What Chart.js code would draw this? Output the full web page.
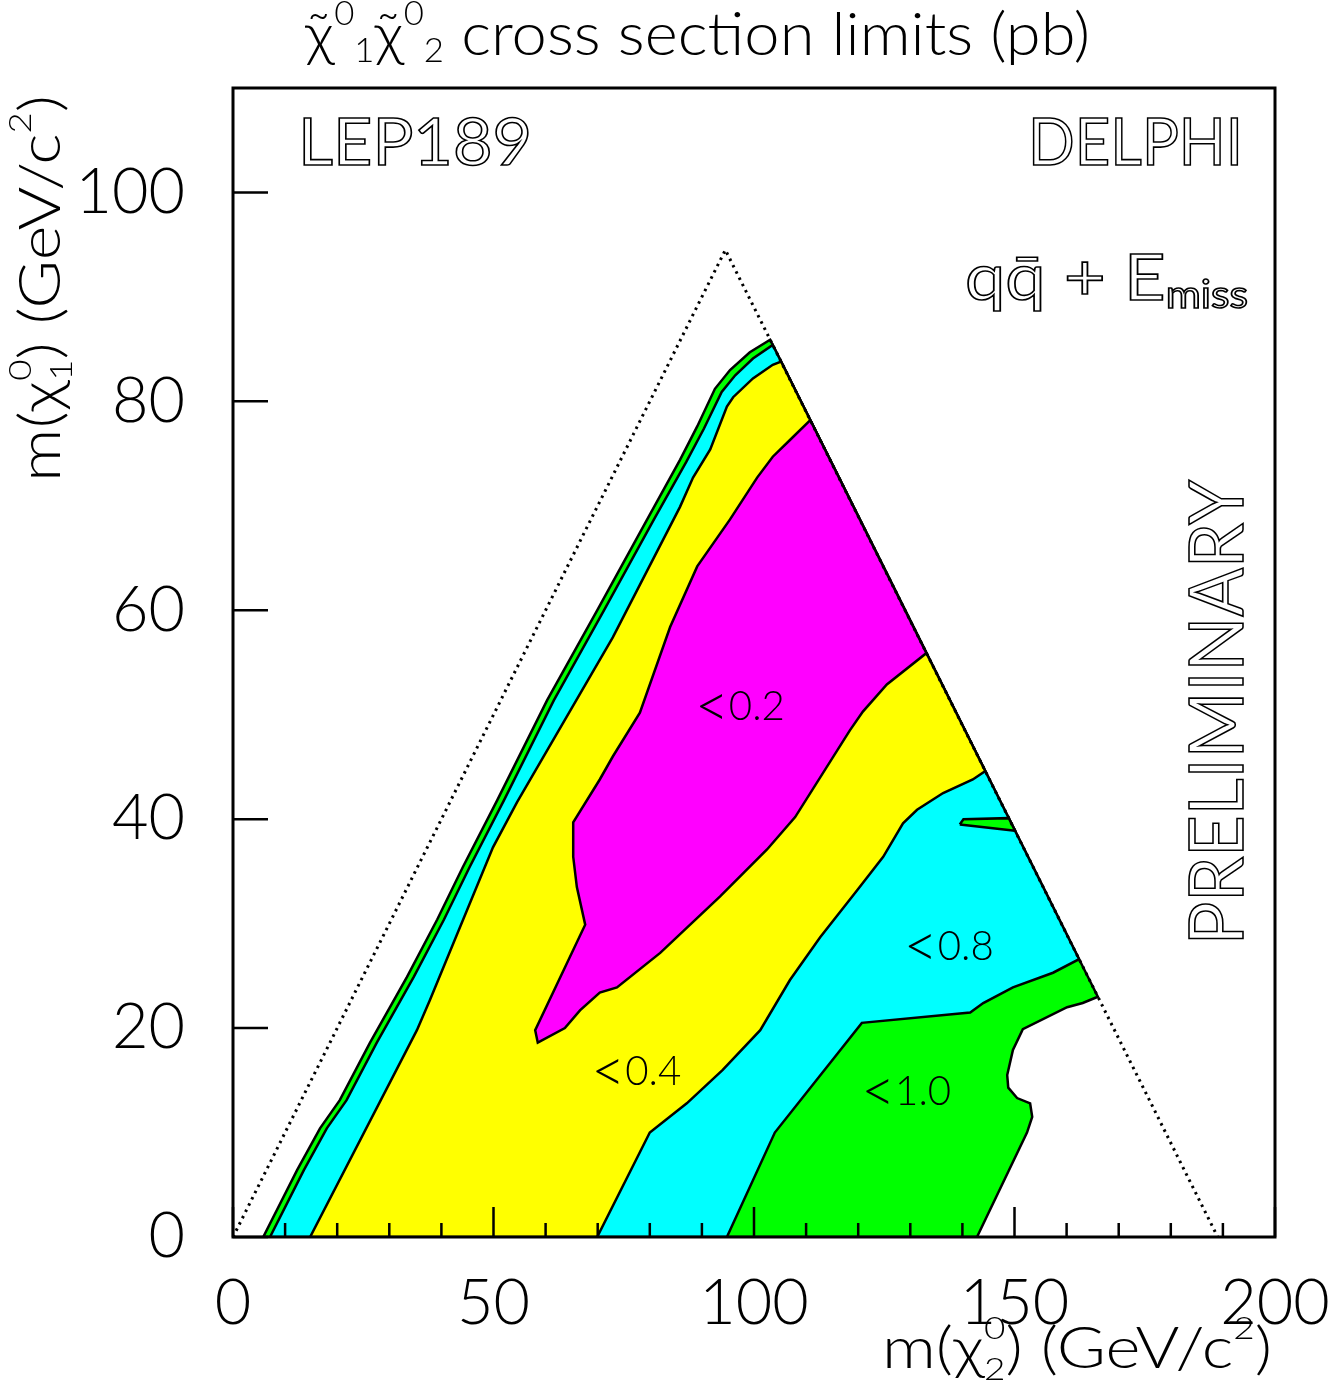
<!DOCTYPE html>
<html>
<head>
<meta charset="utf-8">
<script src="https://cdn.jsdelivr.net/npm/chart.js@4.4.1/dist/chart.umd.min.js"></script>
<style>
  html, body { margin: 0; padding: 0; background: #fff; }
</style>
</head>
<body>
<canvas id="xsec" width="1340" height="1385"></canvas>
<script>
// axis ticks
const xTickValues = [0, 50, 100, 150, 200];
const yTickValues = [0, 20, 40, 60, 80, 100];

// kinematic limit (dotted): m1 < m2 and m1 + m2 < 189
const kinLimit = [[0, 0], [94.5, 94.5], [189, 0]];

// contour regions, [m(chi2), m(chi1)] in GeV/c^2
const regionLt10 = [
  [5.8, 0], [12.3, 6.4], [16.7, 10.4], [20.5, 13.1], [26.3, 18.6], [33.4, 24.9],
  [39.2, 30.4], [44.1, 35.4], [50.7, 41.8], [60.3, 51.4], [69.9, 60.0], [79.5, 68.7],
  [85.8, 74.4], [89.1, 77.6], [92.5, 81.2], [95.4, 83.0], [99.2, 84.7], [103.1, 85.9],
  [166.0, 23.0], [163.1, 22.4], [160.1, 22.0], [151.6, 19.9], [149.7, 17.9], [148.6, 15.5],
  [148.8, 14.3], [150.5, 13.3], [153.0, 12.8], [153.4, 11.5], [152.4, 10.0], [142.8, 0],
  [5.8, 0]
];
const sliverLt10 = [[139.5, 39.5], [140.2, 40.0], [148.9, 40.1], [150.1, 38.9], [139.5, 39.5]];

const regionLt08 = [
  [7.1, 0], [13.6, 6.4], [18.0, 10.4], [21.8, 13.1], [27.6, 18.6], [34.7, 24.9],
  [40.5, 30.4], [45.4, 35.4], [52.0, 41.8], [61.6, 51.4], [71.2, 60.0], [80.8, 68.7],
  [87.0, 74.2], [90.4, 77.4], [93.8, 80.9], [96.4, 82.5], [99.8, 84.1], [103.6, 85.4],
  [162.4, 26.6], [157.4, 25.3], [149.7, 23.9], [144.0, 22.4], [141.5, 21.5], [120.7, 20.5],
  [104.0, 10.0], [94.8, 0], [7.1, 0]
];

const regionLt04 = [
  [14.8, 0], [35.3, 19.8], [37.8, 22.7], [49.9, 37.3], [54.5, 41.6], [72.9, 57.4],
  [85.8, 69.9], [88.3, 72.7], [91.6, 75.4], [94.8, 79.5], [96.0, 80.4], [99.8, 82.2],
  [103.6, 83.5], [105.2, 83.8], [144.4, 44.6], [142.0, 43.8], [136.3, 42.5], [131.3, 40.9],
  [128.6, 39.6], [124.8, 36.4], [119.8, 33.2], [112.7, 28.7], [106.9, 24.6], [101.2, 19.8],
  [94.0, 16.0], [87.1, 12.8], [80.0, 10.0], [69.9, 0], [14.8, 0]
];

const regionLt02 = [
  [110.8, 78.2], [133.1, 55.9], [125.5, 52.9], [120.9, 50.3], [118.4, 48.5], [107.9, 40.2],
  [102.5, 37.1], [93.5, 32.6], [82.0, 27.2], [73.7, 23.9], [70.4, 23.4], [66.6, 21.7],
  [63.7, 20.0], [58.5, 18.6], [58.0, 19.8], [67.6, 29.9], [66.0, 33.5], [65.3, 36.4],
  [65.3, 39.7], [70.4, 43.8], [72.9, 46.0], [78.1, 50.2], [83.9, 58.4], [89.1, 64.2],
  [95.4, 68.7], [100.6, 72.7], [103.6, 74.7], [106.9, 76.3], [110.8, 78.2]
];

// labels inside the contours
const contourLimit = ['0.2', '0.4', '0.8', '1.0'];
const contourTextX = [97.3, 77.4, 137.4, 129.2];
const contourTextY = [50.9, 16.0, 28.0, 14.1];

const FONT = 'Lato';

function toXY(pts) {
  return pts.map(p => ({ x: p[0], y: p[1] }));
}

function region(label, pts, color) {
  return {
    label: label,
    data: toXY(pts),
    showLine: true,
    fill: 'shape',
    backgroundColor: color,
    borderColor: '#000',
    borderWidth: 2.5,
    pointRadius: 0,
    tension: 0
  };
}

// draws a row of text pieces (sub/superscripts), squeezed to a given width
function richText(ctx, segs, opt) {
  const font = f => `${opt.weight || 300} ${Math.round(opt.size * f)}px ${FONT}`;
  ctx.save();
  ctx.translate(opt.x, opt.y);
  if (opt.rotate) ctx.rotate(opt.rotate);
  let total = 0;
  for (const s of segs) {
    ctx.font = font(s[1] || 1);
    if (s[3] !== false) total += ctx.measureText(s[0]).width;
  }
  if (opt.width) ctx.scale(opt.width / total, 1);
  ctx.textBaseline = 'alphabetic';
  ctx.textAlign = 'left';
  ctx.fillStyle = '#000';
  ctx.strokeStyle = '#000';
  ctx.lineWidth = opt.outline || 1;
  let cx = 0;
  for (const s of segs) {
    ctx.font = font(s[1] || 1);
    const dy = (s[2] || 0) * opt.size;
    if (opt.outline) ctx.strokeText(s[0], cx, dy);
    else ctx.fillText(s[0], cx, dy);
    if (s[3] !== false) cx += ctx.measureText(s[0]).width;
  }
  ctx.restore();
}

const decorations = {
  id: 'decorations',
  afterDatasetsDraw(chart) {
    const { ctx, chartArea: a, scales: { x, y } } = chart;
    ctx.save();
    // contour labels
    contourLimit.forEach((t, i) => {
      const cx = x.getPixelForValue(contourTextX[i]);
      const cy = y.getPixelForValue(contourTextY[i]);
      richText(ctx, [['<', 1.45, 0.17], [t]], { x: cx - 45, y: cy + 15, size: 42, width: 90 });
    });
    // inward tick marks
    ctx.strokeStyle = '#000';
    ctx.lineWidth = 2.5;
    ctx.beginPath();
    for (let v = 0; v <= 200; v += 10) {
      const px = x.getPixelForValue(v);
      const len = v % 50 === 0 ? 30 : 14;
      ctx.moveTo(px, a.bottom);
      ctx.lineTo(px, a.bottom - len);
    }
    yTickValues.forEach(v => {
      const py = y.getPixelForValue(v);
      ctx.moveTo(a.left, py);
      ctx.lineTo(a.left + 35, py);
    });
    ctx.stroke();
    // frame
    ctx.lineWidth = 3;
    ctx.strokeRect(a.left, a.top, a.right - a.left, a.bottom - a.top);
    ctx.restore();
  },
  afterDraw(chart) {
    const ctx = chart.ctx;
    // title
    richText(ctx, [['\u03C7\u0303'], ['0', 0.55, -0.5], ['1', 0.55, 0.12],
                   ['\u03C7\u0303'], ['0', 0.55, -0.5], ['2', 0.55, 0.12],
                   [' cross section limits (pb)']],
             { x: 305, y: 55, size: 60, width: 785 });
    // x axis title
    richText(ctx, [['m('], ['\u03C7'], ['0', 0.55, -0.5, false], ['2', 0.55, 0.2],
                   [') (GeV/c'], ['2', 0.55, -0.5], [')']],
             { x: 882, y: 1368, size: 58, width: 390 });
    // y axis title
    richText(ctx, [['m('], ['\u03C7'], ['0', 0.55, -0.5, false], ['1', 0.55, 0.2],
                   [') (GeV/c'], ['2', 0.55, -0.5], [')']],
             { x: 60, y: 482, size: 58, width: 387, rotate: -Math.PI / 2 });
    // annotations
    richText(ctx, [['LEP189']], { x: 298, y: 165, size: 66, width: 234, weight: 400, outline: 1.6 });
    richText(ctx, [['DELPHI']], { x: 1028, y: 165, size: 66, width: 215, weight: 400, outline: 1.6 });
    richText(ctx, [['qq\u0304 + E'], ['miss', 0.6, 0.12]],
             { x: 965, y: 300, size: 64, width: 283, weight: 400, outline: 1.6 });
    richText(ctx, [['PRELIMINARY']],
             { x: 1243, y: 945, size: 76, width: 465, weight: 400, outline: 1.6, rotate: -Math.PI / 2 });
  }
};

new Chart(document.getElementById('xsec'), {
  type: 'scatter',
  data: {
    datasets: [
      {
        label: 'kinematic limit',
        data: toXY(kinLimit),
        showLine: true,
        fill: false,
        borderColor: '#000',
        borderWidth: 3,
        borderDash: [2.5, 4.5],
        pointRadius: 0,
        tension: 0
      },
      region('<1.0 (island)', sliverLt10, '#00ff00'),
      region('<0.2', regionLt02, '#ff00ff'),
      region('<0.4', regionLt04, '#ffff00'),
      region('<0.8', regionLt08, '#00ffff'),
      region('<1.0', regionLt10, '#00ff00')
    ]
  },
  options: {
    responsive: false,
    animation: false,
    events: [],
    layout: { padding: { left: 0, right: 65, top: 88, bottom: 0 } },
    plugins: {
      legend: { display: false },
      tooltip: { enabled: false }
    },
    scales: {
      x: {
        type: 'linear',
        min: 0,
        max: 200,
        afterFit(scale) {
          scale.height = 148;
          scale.paddingLeft = 0;
          scale.paddingRight = 0;
        },
        grid: { display: false, drawTicks: false },
        border: { display: false },
        ticks: {
          stepSize: 50,
          includeBounds: false,
          padding: 29,
          maxRotation: 0,
          color: '#000',
          font: { family: FONT, size: 63, weight: 300 },
          callback: v => xTickValues.includes(v) ? String(v) : ''
        }
      },
      y: {
        type: 'linear',
        min: 0,
        max: 110,
        afterFit(scale) {
          scale.width = 233;
          scale.paddingTop = 0;
          scale.paddingBottom = 0;
        },
        grid: { display: false, drawTicks: false },
        border: { display: false },
        ticks: {
          stepSize: 20,
          includeBounds: false,
          padding: 48,
          color: '#000',
          font: { family: FONT, size: 63, weight: 300 },
          callback: v => yTickValues.includes(v) ? String(v) : ''
        }
      }
    }
  },
  plugins: [decorations]
});
</script>
</body>
</html>
